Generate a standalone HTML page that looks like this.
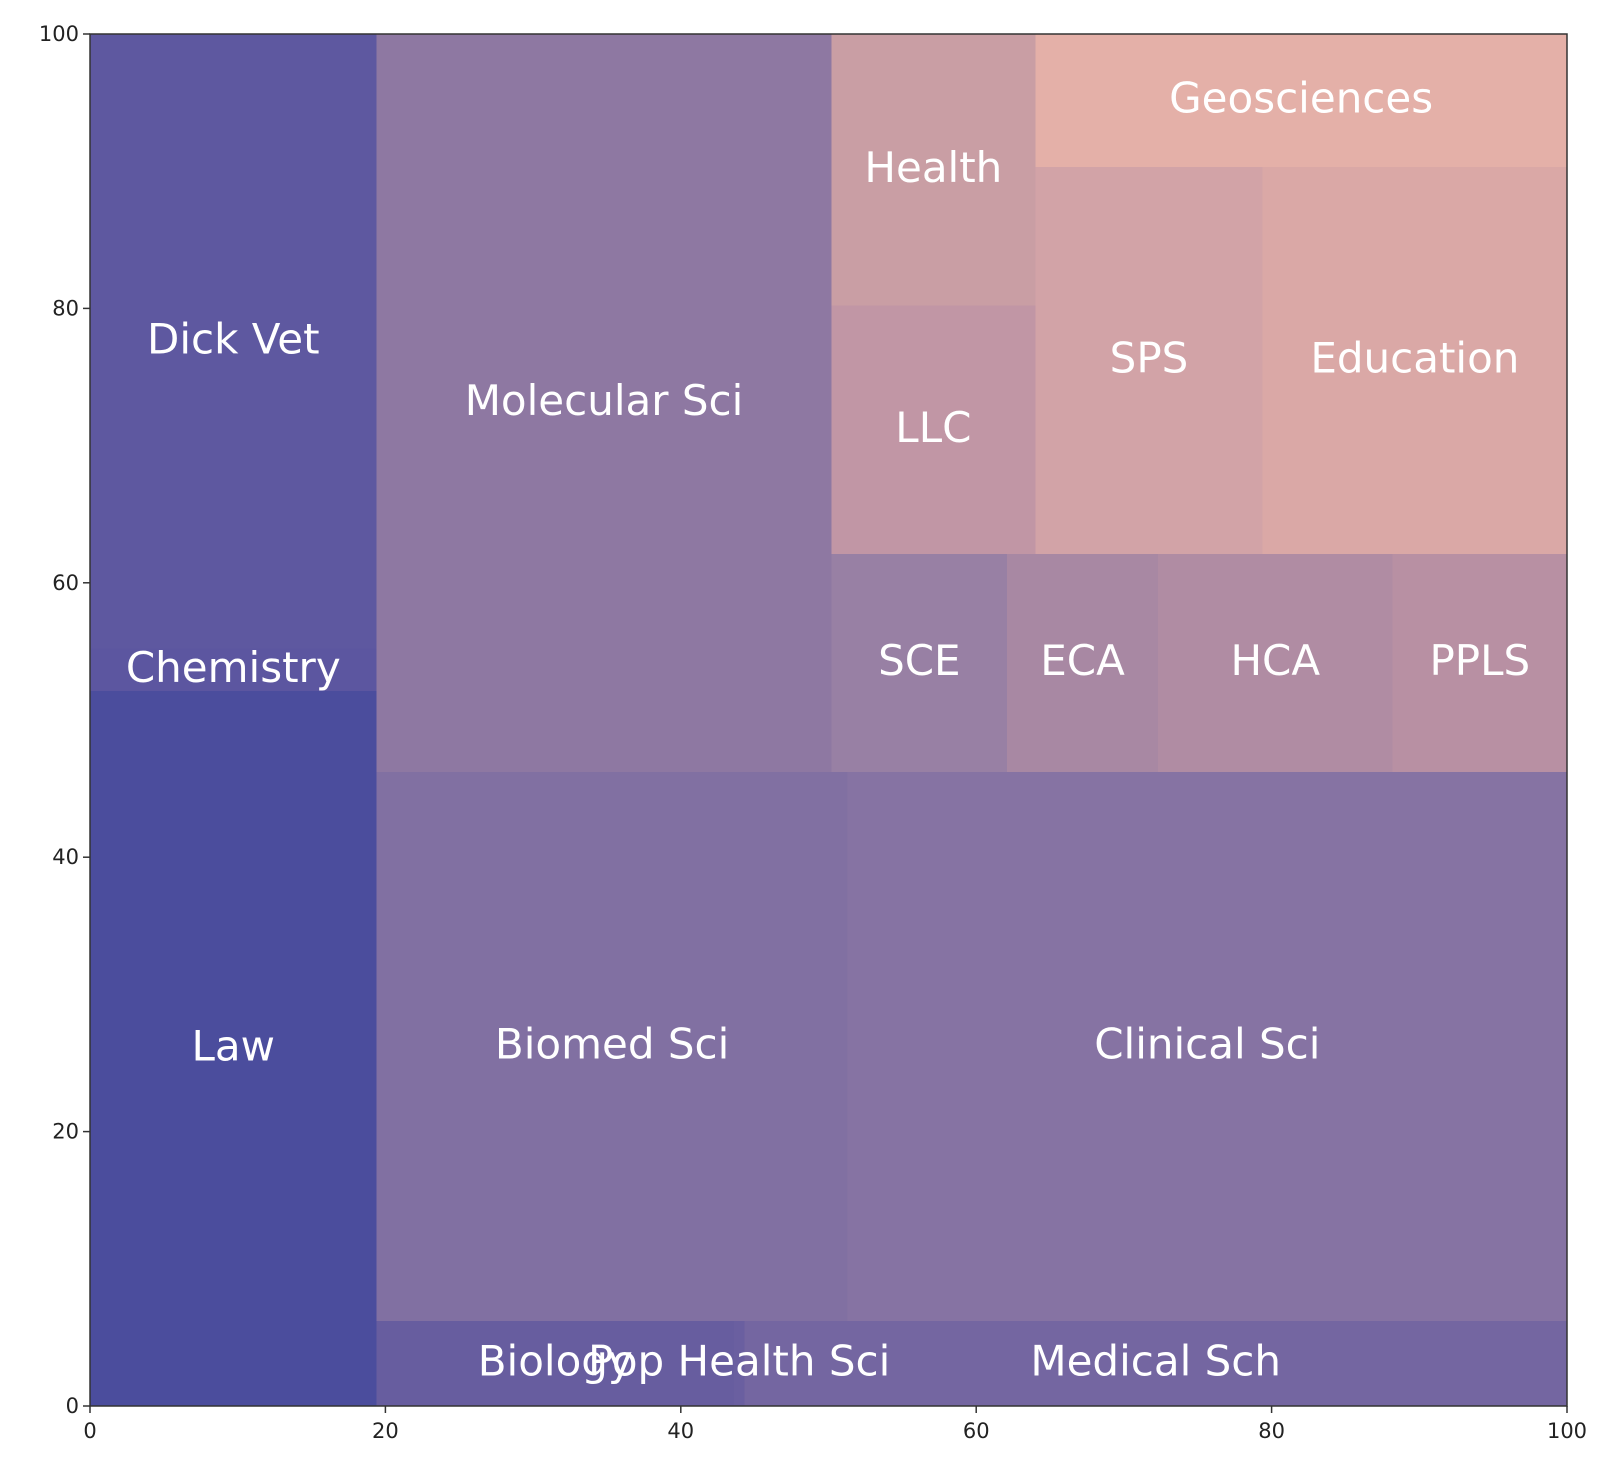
<!DOCTYPE html>
<html><head><meta charset="utf-8"><style>
html,body{margin:0;padding:0;background:#fff;}
svg{display:block;}
text{font-family:"DejaVu Sans","Liberation Sans",sans-serif;}
</style></head><body>
<svg id="chart" width="1620" height="1462" xmlns="http://www.w3.org/2000/svg"></svg>
<script>
const names = ["Law","Chemistry","Dick Vet","Molecular Sci","Biomed Sci","Clinical Sci","Biology","Pop Health Sci","Medical Sch","SCE","ECA","HCA","PPLS","Health","LLC","Geosciences","SPS","Education"];
const x0s = [0,0,0,19.4,19.4,51.3,19.4,43.6,44.3,50.2,62.1,72.3,88.2,50.2,50.2,64,64,79.4];
const x1s = [19.4,19.4,19.4,50.2,51.3,100,43.6,44.3,100,62.1,72.3,88.2,100,64,64,100,79.4,100];
const y0s = [0,52.1,55.2,46.2,6.2,6.2,0,0,0,46.2,46.2,46.2,46.2,80.2,62.1,90.3,62.1,62.1];
const y1s = [52.1,55.2,100,100,46.2,46.2,6.2,6.2,6.2,62.1,62.1,62.1,62.1,100,80.2,100,90.3,90.3];
const colors = ["#4b4d9d","#5c56a0","#5e58a0","#8e78a2","#8170a2","#8673a3","#675d9f","#6a5fa0","#7466a1","#9880a4","#a888a3","#b08ca3","#b890a3","#c99ea4","#c196a5","#e4b0a8","#d2a3a7","#daa8a6"];
const xTicks = [0,20,40,60,80,100];
const yTicks = [0,20,40,60,80,100];

const L=90,R=1567,T=34,B=1406;
const sx=v=>L+(R-L)*v/100;
const sy=v=>B-(B-T)*v/100;
const svg=document.getElementById('chart');
const NS="http://www.w3.org/2000/svg";
function mk(tag,attrs){const e=document.createElementNS(NS,tag);for(const k in attrs)e.setAttribute(k,attrs[k]);return e;}

for(let i=0;i<names.length;i++){
  const r=mk('rect',{x:sx(x0s[i]),y:sy(y1s[i]),width:sx(x1s[i])-sx(x0s[i]),height:sy(y0s[i])-sy(y1s[i]),fill:colors[i],'shape-rendering':'crispEdges'});
  
  
  svg.appendChild(r);
}
for(let i=0;i<names.length;i++){
  const t=mk('text',{x:(sx(x0s[i])+sx(x1s[i]))/2,y:(sy(y0s[i])+sy(y1s[i]))/2+12,'text-anchor':'middle',fill:'#ffffff','font-size':42});
  t.textContent=names[i];
  
  
  svg.appendChild(t);
}
const frame=mk('rect',{x:L,y:T,width:R-L,height:B-T,fill:'none',stroke:'#333',"stroke-width":1.5});


svg.appendChild(frame);
xTicks.forEach(v=>{
  const l=mk('line',{x1:sx(v),x2:sx(v),y1:B,y2:B+7,stroke:'#333','stroke-width':1.5});
  
  
  svg.appendChild(l);
  const t=mk('text',{x:sx(v),y:B+32,'text-anchor':'middle','font-size':21,fill:'#222'});
  t.textContent=v;
  
  
  svg.appendChild(t);
});
yTicks.forEach(v=>{
  const l=mk('line',{x1:L-7,x2:L,y1:sy(v),y2:sy(v),stroke:'#333','stroke-width':1.5});
  
  
  svg.appendChild(l);
  const t=mk('text',{x:L-11,y:sy(v)+7,'text-anchor':'end','font-size':21,fill:'#222'});
  t.textContent=v;
  
  
  svg.appendChild(t);
});
</script>
</body></html>
